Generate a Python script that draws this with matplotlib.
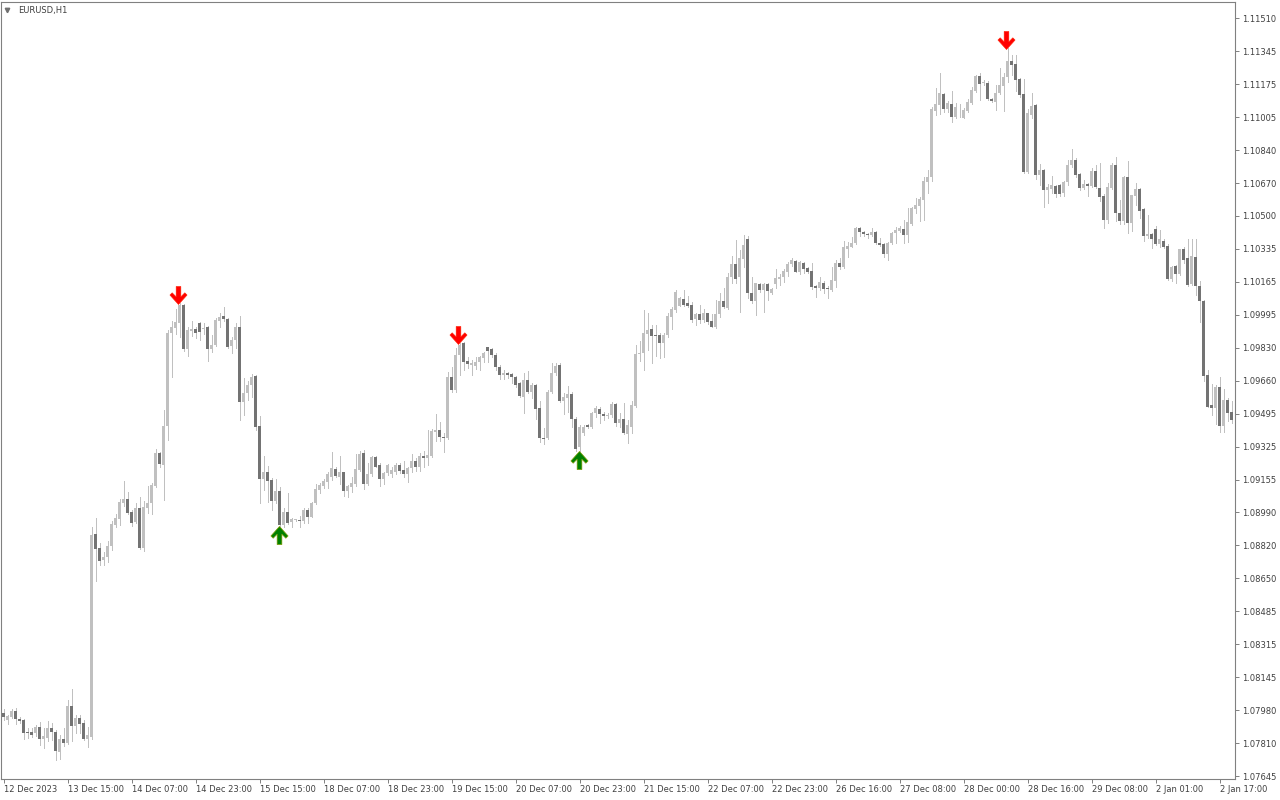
import numpy as np
import matplotlib.pyplot as plt
from matplotlib.path import Path
from matplotlib.transforms import offset_copy

# EURUSD H1 candles, first bar 12 Dec 2023 23:00
opens = [
    1.07967, 1.07931, 1.07946, 1.07977, 1.07936, 1.07931, 1.07870, 1.07870, 1.07865, 1.07895,
    1.07834, 1.07839, 1.07890, 1.07870, 1.07768, 1.07834, 1.07814, 1.08002, 1.07900, 1.07941,
    1.07916, 1.07834, 1.07844, 1.08880, 1.08808, 1.08747, 1.08762, 1.08818, 1.08925, 1.08956,
    1.09038, 1.09058, 1.08992, 1.08941, 1.09012, 1.08808, 1.09012, 1.09038, 1.09124, 1.09293,
    1.09231, 1.09430, 1.09905, 1.09930, 1.09956, 1.10047, 1.09823, 1.09915, 1.09925, 1.09956,
    1.09925, 1.09935, 1.09823, 1.09843, 1.09966, 1.09991, 1.09976, 1.09838, 1.09869, 1.09935,
    1.09553, 1.09599, 1.09639, 1.09685, 1.09430, 1.09160, 1.09196, 1.09155, 1.09048, 1.09099,
    1.08925, 1.08992, 1.08941, 1.08951, 1.08951, 1.08946, 1.09002, 1.08966, 1.09038, 1.09104,
    1.09124, 1.09145, 1.09170, 1.09211, 1.09170, 1.09196, 1.09099, 1.09119, 1.09135, 1.09206,
    1.09293, 1.09135, 1.09186, 1.09272, 1.09231, 1.09160, 1.09191, 1.09186, 1.09196, 1.09231,
    1.09206, 1.09186, 1.09216, 1.09252, 1.09221, 1.09277, 1.09267, 1.09277, 1.09400, 1.09410,
    1.09374, 1.09369, 1.09680, 1.09614, 1.09792, 1.09854, 1.09762, 1.09741, 1.09736, 1.09757,
    1.09777, 1.09833, 1.09823, 1.09792, 1.09731, 1.09690, 1.09701, 1.09696, 1.09680, 1.09650,
    1.09578, 1.09665, 1.09604, 1.09639, 1.09522, 1.09369, 1.09369, 1.09604, 1.09701, 1.09741,
    1.09558, 1.09573, 1.09594, 1.09466, 1.09323, 1.09395, 1.09435, 1.09425, 1.09497, 1.09517,
    1.09492, 1.09481, 1.09486, 1.09543, 1.09446, 1.09466, 1.09390, 1.09425, 1.09532, 1.09798,
    1.09803, 1.09900, 1.09925, 1.09894, 1.09894, 1.09854, 1.09894, 1.09986, 1.10022, 1.10042,
    1.10078, 1.10058, 1.10047, 1.09976, 1.10002, 1.09971, 1.10007, 1.09966, 1.09935, 1.10002,
    1.10068, 1.10032, 1.10190, 1.10257, 1.10190, 1.10282, 1.10384, 1.10109, 1.10068, 1.10155,
    1.10124, 1.10155, 1.10109, 1.10155, 1.10180, 1.10190, 1.10216, 1.10257, 1.10272, 1.10216,
    1.10262, 1.10236, 1.10221, 1.10144, 1.10134, 1.10160, 1.10134, 1.10124, 1.10170, 1.10262,
    1.10241, 1.10333, 1.10343, 1.10364, 1.10440, 1.10420, 1.10410, 1.10404, 1.10420, 1.10364,
    1.10359, 1.10308, 1.10364, 1.10415, 1.10425, 1.10435, 1.10404, 1.10461, 1.10537, 1.10552,
    1.10583, 1.10675, 1.10700, 1.11037, 1.11067, 1.11124, 1.11047, 1.11073, 1.11006, 1.11057,
    1.11001, 1.11037, 1.11078, 1.11139, 1.11215, 1.11180, 1.11180, 1.11098, 1.11083, 1.11129,
    1.11164, 1.11210, 1.11292, 1.11277, 1.11200, 1.11124, 1.10726, 1.11016, 1.11067, 1.10710,
    1.10736, 1.10634, 1.10639, 1.10654, 1.10659, 1.10619, 1.10675, 1.10761, 1.10787, 1.10716,
    1.10644, 1.10665, 1.10654, 1.10731, 1.10644, 1.10603, 1.10481, 1.10644, 1.10761, 1.10517,
    1.10476, 1.10700, 1.10466, 1.10603, 1.10639, 1.10537, 1.10399, 1.10410, 1.10435, 1.10359,
    1.10374, 1.10348, 1.10180, 1.10246, 1.10206, 1.10333, 1.10287, 1.10155, 1.10292, 1.10144,
    1.10068, 1.09690, 1.09537, 1.09522, 1.09629, 1.09430, 1.09563, 1.09502,
]
highs = [
    1.07987, 1.07956, 1.07987, 1.07992, 1.07946, 1.07936, 1.07890, 1.07890, 1.07905, 1.07921,
    1.07890, 1.07926, 1.07916, 1.07880, 1.07854, 1.07890, 1.08033, 1.08089, 1.07956, 1.07956,
    1.07931, 1.07895, 1.08915, 1.08961, 1.08834, 1.08788, 1.08844, 1.08946, 1.08982, 1.09058,
    1.09150, 1.09094, 1.09002, 1.09038, 1.09068, 1.09048, 1.09124, 1.09140, 1.09313, 1.09298,
    1.09512, 1.09920, 1.09966, 1.10027, 1.10058, 1.10053, 1.09935, 1.09966, 1.09935, 1.09961,
    1.09956, 1.09940, 1.09894, 1.09981, 1.10007, 1.10037, 1.09981, 1.09884, 1.09956, 1.09991,
    1.09675, 1.09660, 1.09696, 1.09690, 1.09481, 1.09277, 1.09226, 1.09165, 1.09160, 1.09119,
    1.09012, 1.09089, 1.08961, 1.08956, 1.08971, 1.09012, 1.09012, 1.09043, 1.09135, 1.09140,
    1.09160, 1.09196, 1.09298, 1.09221, 1.09277, 1.09196, 1.09129, 1.09170, 1.09288, 1.09303,
    1.09308, 1.09242, 1.09277, 1.09277, 1.09242, 1.09196, 1.09237, 1.09221, 1.09242, 1.09242,
    1.09252, 1.09221, 1.09288, 1.09267, 1.09293, 1.09303, 1.09410, 1.09415, 1.09492, 1.09451,
    1.09395, 1.09706, 1.09731, 1.09828, 1.09854, 1.09859, 1.09782, 1.09767, 1.09782, 1.09787,
    1.09808, 1.09833, 1.09828, 1.09803, 1.09741, 1.09716, 1.09706, 1.09701, 1.09685, 1.09655,
    1.09701, 1.09711, 1.09650, 1.09645, 1.09558, 1.09420, 1.09614, 1.09752, 1.09752, 1.09752,
    1.09599, 1.09634, 1.09604, 1.09476, 1.09435, 1.09435, 1.09441, 1.09502, 1.09532, 1.09527,
    1.09502, 1.09497, 1.09553, 1.09548, 1.09497, 1.09548, 1.09461, 1.09558, 1.09843, 1.09864,
    1.10022, 1.10007, 1.09945, 1.09945, 1.09905, 1.09905, 1.10007, 1.10037, 1.10124, 1.10088,
    1.10124, 1.10093, 1.10063, 1.10007, 1.10047, 1.10027, 1.10007, 1.10002, 1.10073, 1.10109,
    1.10134, 1.10211, 1.10297, 1.10379, 1.10328, 1.10404, 1.10399, 1.10190, 1.10160, 1.10160,
    1.10160, 1.10160, 1.10134, 1.10231, 1.10206, 1.10231, 1.10267, 1.10287, 1.10277, 1.10272,
    1.10267, 1.10241, 1.10262, 1.10149, 1.10190, 1.10170, 1.10144, 1.10241, 1.10277, 1.10287,
    1.10374, 1.10369, 1.10394, 1.10445, 1.10445, 1.10425, 1.10415, 1.10440, 1.10425, 1.10389,
    1.10364, 1.10369, 1.10420, 1.10445, 1.10450, 1.10481, 1.10542, 1.10547, 1.10593, 1.10598,
    1.10700, 1.10736, 1.11057, 1.11154, 1.11231, 1.11129, 1.11088, 1.11139, 1.11078, 1.11073,
    1.11052, 1.11098, 1.11159, 1.11220, 1.11231, 1.11195, 1.11190, 1.11103, 1.11169, 1.11256,
    1.11231, 1.11358, 1.11322, 1.11322, 1.11205, 1.11200, 1.11047, 1.11129, 1.11073, 1.10767,
    1.10741, 1.10665, 1.10705, 1.10659, 1.10665, 1.10680, 1.10787, 1.10843, 1.10797, 1.10721,
    1.10685, 1.10670, 1.10746, 1.10761, 1.10772, 1.10614, 1.10670, 1.10772, 1.10802, 1.10583,
    1.10705, 1.10782, 1.10608, 1.10670, 1.10644, 1.10542, 1.10506, 1.10415, 1.10450, 1.10430,
    1.10384, 1.10359, 1.10246, 1.10251, 1.10333, 1.10343, 1.10384, 1.10384, 1.10384, 1.10170,
    1.10073, 1.09716, 1.09645, 1.09639, 1.09680, 1.09619, 1.09573, 1.09558,
]
lows = [
    1.07931, 1.07911, 1.07941, 1.07911, 1.07916, 1.07834, 1.07839, 1.07844, 1.07849, 1.07803,
    1.07788, 1.07824, 1.07829, 1.07727, 1.07732, 1.07798, 1.07809, 1.07824, 1.07865, 1.07865,
    1.07829, 1.07793, 1.07834, 1.08640, 1.08721, 1.08721, 1.08737, 1.08798, 1.08915, 1.08925,
    1.09022, 1.08982, 1.08920, 1.08936, 1.08803, 1.08793, 1.08987, 1.08982, 1.09119, 1.09221,
    1.09053, 1.09359, 1.09680, 1.09900, 1.09884, 1.09813, 1.09787, 1.09889, 1.09879, 1.09869,
    1.09900, 1.09762, 1.09808, 1.09838, 1.09935, 1.09966, 1.09828, 1.09803, 1.09828, 1.09461,
    1.09486, 1.09563, 1.09578, 1.09410, 1.09038, 1.09104, 1.09043, 1.09002, 1.09038, 1.08915,
    1.08915, 1.08931, 1.08915, 1.08946, 1.08915, 1.08936, 1.08936, 1.08966, 1.09033, 1.09089,
    1.09114, 1.09114, 1.09155, 1.09170, 1.09135, 1.09073, 1.09068, 1.09094, 1.09124, 1.09201,
    1.09109, 1.09129, 1.09175, 1.09221, 1.09124, 1.09135, 1.09180, 1.09170, 1.09186, 1.09191,
    1.09170, 1.09145, 1.09196, 1.09201, 1.09201, 1.09221, 1.09231, 1.09272, 1.09354, 1.09354,
    1.09298, 1.09364, 1.09604, 1.09604, 1.09690, 1.09716, 1.09726, 1.09690, 1.09721, 1.09716,
    1.09757, 1.09757, 1.09782, 1.09716, 1.09670, 1.09670, 1.09675, 1.09650, 1.09629, 1.09578,
    1.09497, 1.09599, 1.09573, 1.09466, 1.09349, 1.09339, 1.09364, 1.09599, 1.09690, 1.09553,
    1.09492, 1.09502, 1.09425, 1.09303, 1.09298, 1.09384, 1.09420, 1.09420, 1.09476, 1.09446,
    1.09461, 1.09471, 1.09476, 1.09430, 1.09425, 1.09390, 1.09344, 1.09395, 1.09527, 1.09762,
    1.09716, 1.09818, 1.09752, 1.09787, 1.09777, 1.09782, 1.09884, 1.09925, 1.10012, 1.10042,
    1.10042, 1.10037, 1.09961, 1.09945, 1.09956, 1.09961, 1.09951, 1.09935, 1.09930, 1.09986,
    1.10032, 1.10027, 1.10160, 1.10160, 1.10012, 1.10241, 1.10083, 1.10058, 1.09996, 1.10114,
    1.10012, 1.10073, 1.10104, 1.10134, 1.10149, 1.10165, 1.10195, 1.10246, 1.10216, 1.10206,
    1.10211, 1.10211, 1.10129, 1.10088, 1.10124, 1.10109, 1.10083, 1.10119, 1.10139, 1.10231,
    1.10236, 1.10292, 1.10343, 1.10359, 1.10399, 1.10399, 1.10389, 1.10399, 1.10359, 1.10348,
    1.10292, 1.10277, 1.10359, 1.10364, 1.10420, 1.10364, 1.10369, 1.10455, 1.10517, 1.10476,
    1.10481, 1.10619, 1.10680, 1.11016, 1.11022, 1.11032, 1.11032, 1.10981, 1.11001, 1.11006,
    1.11001, 1.11032, 1.11073, 1.11134, 1.11093, 1.11169, 1.11093, 1.11083, 1.11042, 1.11124,
    1.11037, 1.11185, 1.11220, 1.11139, 1.11108, 1.10721, 1.10721, 1.11001, 1.10690, 1.10659,
    1.10547, 1.10568, 1.10619, 1.10598, 1.10603, 1.10603, 1.10659, 1.10751, 1.10700, 1.10634,
    1.10639, 1.10603, 1.10649, 1.10644, 1.10578, 1.10440, 1.10466, 1.10639, 1.10476, 1.10461,
    1.10461, 1.10415, 1.10425, 1.10557, 1.10491, 1.10374, 1.10389, 1.10338, 1.10353, 1.10343,
    1.10338, 1.10175, 1.10170, 1.10160, 1.10201, 1.10262, 1.10144, 1.10149, 1.10098, 1.09961,
    1.09660, 1.09527, 1.09486, 1.09441, 1.09400, 1.09400, 1.09456, 1.09446,
]
closes = [
    1.07946, 1.07951, 1.07977, 1.07936, 1.07926, 1.07865, 1.07865, 1.07854, 1.07895, 1.07834,
    1.07849, 1.07890, 1.07870, 1.07773, 1.07834, 1.07814, 1.08002, 1.07900, 1.07941, 1.07911,
    1.07834, 1.07854, 1.08874, 1.08803, 1.08742, 1.08762, 1.08818, 1.08931, 1.08961, 1.09043,
    1.09058, 1.08987, 1.08936, 1.09012, 1.08808, 1.09017, 1.09038, 1.09129, 1.09293, 1.09237,
    1.09430, 1.09905, 1.09935, 1.09961, 1.10047, 1.09823, 1.09920, 1.09925, 1.09905, 1.09910,
    1.09930, 1.09823, 1.09843, 1.09971, 1.09986, 1.09976, 1.09833, 1.09869, 1.09935, 1.09553,
    1.09599, 1.09639, 1.09680, 1.09425, 1.09160, 1.09196, 1.09150, 1.09048, 1.09099, 1.08925,
    1.08992, 1.08936, 1.08956, 1.08951, 1.08946, 1.09002, 1.08966, 1.09038, 1.09109, 1.09129,
    1.09150, 1.09186, 1.09216, 1.09175, 1.09196, 1.09099, 1.09124, 1.09140, 1.09211, 1.09288,
    1.09135, 1.09186, 1.09272, 1.09221, 1.09160, 1.09191, 1.09231, 1.09206, 1.09231, 1.09201,
    1.09186, 1.09216, 1.09252, 1.09221, 1.09277, 1.09267, 1.09282, 1.09405, 1.09410, 1.09374,
    1.09369, 1.09680, 1.09614, 1.09792, 1.09843, 1.09757, 1.09747, 1.09752, 1.09757, 1.09782,
    1.09803, 1.09813, 1.09792, 1.09731, 1.09690, 1.09701, 1.09690, 1.09680, 1.09639, 1.09583,
    1.09665, 1.09604, 1.09639, 1.09517, 1.09369, 1.09364, 1.09604, 1.09701, 1.09736, 1.09558,
    1.09578, 1.09594, 1.09466, 1.09313, 1.09425, 1.09425, 1.09425, 1.09497, 1.09522, 1.09492,
    1.09481, 1.09486, 1.09543, 1.09446, 1.09466, 1.09395, 1.09435, 1.09537, 1.09798, 1.09803,
    1.09905, 1.09920, 1.09889, 1.09889, 1.09854, 1.09894, 1.09991, 1.10027, 1.10114, 1.10083,
    1.10047, 1.10042, 1.09971, 1.10002, 1.09971, 1.10007, 1.09961, 1.09935, 1.10002, 1.10068,
    1.10037, 1.10190, 1.10257, 1.10180, 1.10287, 1.10353, 1.10109, 1.10068, 1.10160, 1.10124,
    1.10155, 1.10119, 1.10129, 1.10185, 1.10190, 1.10221, 1.10257, 1.10277, 1.10216, 1.10267,
    1.10231, 1.10216, 1.10139, 1.10134, 1.10165, 1.10129, 1.10129, 1.10175, 1.10262, 1.10241,
    1.10343, 1.10348, 1.10364, 1.10440, 1.10420, 1.10410, 1.10404, 1.10420, 1.10364, 1.10353,
    1.10308, 1.10364, 1.10415, 1.10430, 1.10440, 1.10404, 1.10471, 1.10542, 1.10557, 1.10588,
    1.10680, 1.10700, 1.11047, 1.11073, 1.11129, 1.11047, 1.11078, 1.11006, 1.11057, 1.11057,
    1.11042, 1.11083, 1.11144, 1.11215, 1.11175, 1.11185, 1.11098, 1.11088, 1.11129, 1.11169,
    1.11210, 1.11292, 1.11271, 1.11195, 1.11118, 1.10726, 1.11027, 1.11062, 1.10710, 1.10736,
    1.10634, 1.10649, 1.10659, 1.10614, 1.10614, 1.10675, 1.10761, 1.10787, 1.10710, 1.10644,
    1.10665, 1.10654, 1.10731, 1.10649, 1.10598, 1.10481, 1.10649, 1.10761, 1.10517, 1.10476,
    1.10700, 1.10466, 1.10608, 1.10639, 1.10527, 1.10399, 1.10410, 1.10384, 1.10359, 1.10384,
    1.10343, 1.10180, 1.10241, 1.10206, 1.10333, 1.10277, 1.10149, 1.10297, 1.10144, 1.10068,
    1.09685, 1.09527, 1.09522, 1.09629, 1.09430, 1.09563, 1.09497, 1.09461,
]

price_labels = ["1.11510", "1.11345", "1.11175", "1.11005", "1.10840", "1.10670",
                "1.10500", "1.10335", "1.10165", "1.09995", "1.09830", "1.09660",
                "1.09495", "1.09325", "1.09155", "1.08990", "1.08820", "1.08650",
                "1.08485", "1.08315", "1.08145", "1.07980", "1.07810", "1.07645"]
date_labels = ["12 Dec 2023", "13 Dec 15:00", "14 Dec 07:00", "14 Dec 23:00", "15 Dec 15:00",
               "18 Dec 07:00", "18 Dec 23:00", "19 Dec 15:00", "20 Dec 07:00", "20 Dec 23:00",
               "21 Dec 15:00", "22 Dec 07:00", "22 Dec 23:00", "26 Dec 16:00", "27 Dec 08:00",
               "28 Dec 00:00", "28 Dec 16:00", "29 Dec 08:00", "2 Jan 01:00", "2 Jan 17:00"]
sell_bars = [44, 114, 251]   # red arrows above the high
buy_bars = [69, 144]         # green arrows below the low

BULL = '#c0c0c0'
BEAR = '#737373'
WICK = '#c0c0c0'
TEXT = '#404040'
FRAME = '#808080'

o = np.array(opens)
h = np.array(highs)
l = np.array(lows)
c = np.array(closes)
x = np.arange(len(o))

fig = plt.figure(figsize=(12.8, 8), dpi=100)
ax = fig.add_axes([1 / 1280, 21 / 800, 1234 / 1280, 777 / 800])

# wicks then bodies
ax.vlines(x, l, h, colors=WICK, linewidth=0.7, antialiased=False, zorder=2)
up = c >= o
body = np.maximum(np.abs(c - o), 0.00003)
ax.bar(x, body, bottom=np.minimum(o, c), width=0.75,
       color=np.where(up, BULL, BEAR), linewidth=0, antialiased=False, zorder=3)

# arrow markers (thick arrow with chevron head)
down_v = [(-0.26, 1.0), (0.26, 1.0), (0.26, -0.15), (0.70, 0.30), (0.95, 0.05),
          (0.0, -1.0), (-0.95, 0.05), (-0.70, 0.30), (-0.26, -0.15), (-0.26, 1.0)]
down_arrow = Path(down_v, closed=True)
up_arrow = Path([(vx, -vy) for vx, vy in down_v], closed=True)

t_sell = offset_copy(ax.transData, fig=fig, x=-1.4, y=6.0, units='points')
t_buy = offset_copy(ax.transData, fig=fig, x=-0.4, y=-5.8, units='points')
ax.plot(x[sell_bars], h[sell_bars], linestyle='none', marker=down_arrow, markersize=13,
        color='#ff0000', markeredgecolor='#ff2000', markeredgewidth=0.4,
        transform=t_sell, zorder=5)
ax.plot(x[buy_bars], l[buy_bars], linestyle='none', marker=up_arrow, markersize=13,
        color='#008000', markeredgecolor='#7a9a00', markeredgewidth=0.5,
        transform=t_buy, zorder=5)

ax.set_xlim(-0.675, 307.8)
ax.set_ylim(1.07630, 1.11593)

# price scale on the right
yt = np.linspace(float(price_labels[-1]), float(price_labels[0]), len(price_labels))
ax.yaxis.tick_right()
ax.set_yticks(yt)
ax.set_yticklabels(price_labels[::-1])
ax.tick_params(axis='y', length=3, width=0.7, color=FRAME, labelsize=6.0,
               labelcolor=TEXT, pad=2)

ax.set_xticks(np.arange(0, 16 * len(date_labels), 16))
ax.set_xticklabels(date_labels)
for lbl in ax.get_xticklabels():
    lbl.set_horizontalalignment('left')
ax.tick_params(axis='x', length=3, width=0.7, color=FRAME, labelsize=6.0,
               labelcolor=TEXT, pad=1.5)

for s in ax.spines.values():
    s.set_color(FRAME)
    s.set_linewidth(0.8)

# symbol caption top-left
ax.plot([6 / 1234], [1 - 8 / 777], marker='v', markersize=3.2, color='#707070',
        transform=ax.transAxes, clip_on=False)
ax.text(17 / 1234, 1 - 8 / 777, "EURUSD,H1", transform=ax.transAxes,
        fontsize=6.0, color=TEXT, ha='left', va='center')

fig.savefig('out.png', dpi=100, facecolor='white')
